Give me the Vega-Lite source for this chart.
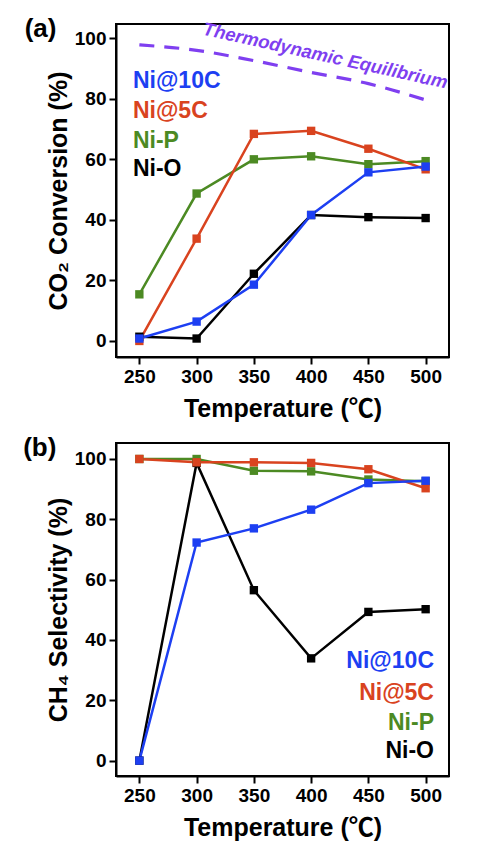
{
  "$schema": "https://vega.github.io/schema/vega-lite/v6.json",
  "background": "white",
  "padding": {"left": 22, "top": 14, "right": 0, "bottom": 0},
  "spacing": 12,
  "config": {
    "font": "Liberation Sans",
    "view": {"stroke": "black", "strokeWidth": 2},
    "axis": {
      "grid": false,
      "domainColor": "black",
      "domainWidth": 2,
      "tickColor": "black",
      "tickWidth": 2,
      "tickSize": 7,
      "labelFont": "Liberation Sans",
      "labelFontSize": 19,
      "labelFontWeight": "bold",
      "labelColor": "black",
      "labelPadding": 3,
      "titleFont": "Liberation Sans, 'Noto Sans CJK SC'",
      "titleFontSize": 25,
      "titleFontWeight": "bold",
      "titleColor": "black"
    },
    "text": {"font": "Liberation Sans", "fontWeight": "bold"}
  },
  "datasets": {
    "conversion": [
      {"sample": "Ni-O", "temp": 250, "value": 1.4},
      {"sample": "Ni-O", "temp": 300, "value": 0.8},
      {"sample": "Ni-O", "temp": 350, "value": 22.2},
      {"sample": "Ni-O", "temp": 400, "value": 41.6},
      {"sample": "Ni-O", "temp": 450, "value": 40.9},
      {"sample": "Ni-O", "temp": 500, "value": 40.6},
      {"sample": "Ni-P", "temp": 250, "value": 15.4},
      {"sample": "Ni-P", "temp": 300, "value": 48.7},
      {"sample": "Ni-P", "temp": 350, "value": 60.0},
      {"sample": "Ni-P", "temp": 400, "value": 61.0},
      {"sample": "Ni-P", "temp": 450, "value": 58.4},
      {"sample": "Ni-P", "temp": 500, "value": 59.4},
      {"sample": "Ni@5C", "temp": 250, "value": 0.0},
      {"sample": "Ni@5C", "temp": 300, "value": 33.8},
      {"sample": "Ni@5C", "temp": 350, "value": 68.4},
      {"sample": "Ni@5C", "temp": 400, "value": 69.4},
      {"sample": "Ni@5C", "temp": 450, "value": 63.5},
      {"sample": "Ni@5C", "temp": 500, "value": 56.7},
      {"sample": "Ni@10C", "temp": 250, "value": 0.8},
      {"sample": "Ni@10C", "temp": 300, "value": 6.4},
      {"sample": "Ni@10C", "temp": 350, "value": 18.6},
      {"sample": "Ni@10C", "temp": 400, "value": 41.6},
      {"sample": "Ni@10C", "temp": 450, "value": 55.7},
      {"sample": "Ni@10C", "temp": 500, "value": 57.6}
    ],
    "selectivity": [
      {"sample": "Ni-O", "temp": 250, "value": 0.0},
      {"sample": "Ni-O", "temp": 300, "value": 98.7},
      {"sample": "Ni-O", "temp": 350, "value": 56.5},
      {"sample": "Ni-O", "temp": 400, "value": 33.9},
      {"sample": "Ni-O", "temp": 450, "value": 49.3},
      {"sample": "Ni-O", "temp": 500, "value": 50.2},
      {"sample": "Ni-P", "temp": 250, "value": 100.0},
      {"sample": "Ni-P", "temp": 300, "value": 100.0},
      {"sample": "Ni-P", "temp": 350, "value": 96.1},
      {"sample": "Ni-P", "temp": 400, "value": 95.9},
      {"sample": "Ni-P", "temp": 450, "value": 93.2},
      {"sample": "Ni-P", "temp": 500, "value": 92.6},
      {"sample": "Ni@5C", "temp": 250, "value": 100.0},
      {"sample": "Ni@5C", "temp": 300, "value": 98.9},
      {"sample": "Ni@5C", "temp": 350, "value": 98.9},
      {"sample": "Ni@5C", "temp": 400, "value": 98.7},
      {"sample": "Ni@5C", "temp": 450, "value": 96.6},
      {"sample": "Ni@5C", "temp": 500, "value": 90.3},
      {"sample": "Ni@10C", "temp": 250, "value": 0.0},
      {"sample": "Ni@10C", "temp": 300, "value": 72.3},
      {"sample": "Ni@10C", "temp": 350, "value": 77.0},
      {"sample": "Ni@10C", "temp": 400, "value": 83.2},
      {"sample": "Ni@10C", "temp": 450, "value": 92.0},
      {"sample": "Ni@10C", "temp": 500, "value": 92.8}
    ],
    "equilibrium": [
      {"temp": 250, "value": 97.8},
      {"temp": 300, "value": 96.0},
      {"temp": 350, "value": 92.6},
      {"temp": 400, "value": 88.7},
      {"temp": 450, "value": 85.0},
      {"temp": 500, "value": 79.6}
    ],
    "keyTop": [
      {"sample": "Ni@10C", "temp": 244.4, "value": 85.9},
      {"sample": "Ni@5C", "temp": 244.4, "value": 76.0},
      {"sample": "Ni-P", "temp": 244.4, "value": 66.1},
      {"sample": "Ni-O", "temp": 244.4, "value": 56.8}
    ],
    "keyBottom": [
      {"sample": "Ni@10C", "temp": 507.3, "value": 33.0},
      {"sample": "Ni@5C", "temp": 507.3, "value": 22.5},
      {"sample": "Ni-P", "temp": 507.3, "value": 12.6},
      {"sample": "Ni-O", "temp": 507.3, "value": 3.2}
    ]
  },
  "resolve": {"scale": {"y": "independent"}},
  "vconcat": [
    {
      "width": 333,
      "height": 333,
      "encoding": {
        "x": {
          "field": "temp", "type": "quantitative",
          "scale": {"domain": [229.6, 520.4], "nice": false, "zero": false},
          "axis": {"values": [250, 300, 350, 400, 450, 500], "title": "Temperature (℃)", "titlePadding": 10}
        },
        "y": {
          "field": "value", "type": "quantitative",
          "scale": {"domain": [-5.3, 104.7], "nice": false, "zero": false},
          "axis": {"values": [0, 20, 40, 60, 80, 100], "title": "CO₂ Conversion (%)", "titlePadding": 3}
        }
      },
      "layer": [
        {
          "data": {"name": "equilibrium"},
          "mark": {"type": "line", "color": "#7f3ff0", "strokeWidth": 3.2, "strokeDash": [15, 10], "interpolate": "monotone"}
        },
        {
          "data": {"values": [{"temp": 412.4, "value": 94.2, "label": "Thermodynamic Equilibrium"}]},
          "mark": {"type": "text", "angle": 12.5, "fontSize": 18.5, "fontStyle": "italic", "color": "#7f3ff0", "align": "center", "baseline": "middle"},
          "encoding": {"text": {"field": "label"}}
        },
        {
          "data": {"name": "conversion"},
          "mark": {"type": "line", "strokeWidth": 2.5},
          "encoding": {
            "color": {"field": "sample", "type": "nominal", "legend": null,
              "scale": {"domain": ["Ni@10C", "Ni@5C", "Ni-P", "Ni-O"], "range": ["#1d3ff2", "#d9431f", "#4c8a23", "#000000"]}}
          }
        },
        {
          "data": {"name": "conversion"},
          "mark": {"type": "square", "size": 70, "filled": true, "opacity": 1},
          "encoding": {"color": {"field": "sample", "type": "nominal", "legend": null}}
        },
        {
          "data": {"name": "keyTop"},
          "mark": {"type": "text", "fontSize": 23, "align": "left", "baseline": "middle"},
          "encoding": {
            "text": {"field": "sample"},
            "color": {"field": "sample", "type": "nominal", "legend": null}
          }
        },
        {
          "data": {"values": [{"temp": 163.7, "value": 103.2, "label": "(a)"}]},
          "mark": {"type": "text", "fontSize": 26, "align": "center", "baseline": "middle", "color": "black"},
          "encoding": {"text": {"field": "label"}}
        }
      ]
    },
    {
      "width": 333,
      "height": 333,
      "encoding": {
        "x": {
          "field": "temp", "type": "quantitative",
          "scale": {"domain": [229.6, 520.4], "nice": false, "zero": false},
          "axis": {"values": [250, 300, 350, 400, 450, 500], "title": "Temperature (℃)", "titlePadding": 10}
        },
        "y": {
          "field": "value", "type": "quantitative",
          "scale": {"domain": [-5.1, 105.3], "nice": false, "zero": false},
          "axis": {"values": [0, 20, 40, 60, 80, 100], "title": "CH₄ Selectivity (%)", "titlePadding": 3}
        }
      },
      "layer": [
        {
          "data": {"name": "selectivity"},
          "mark": {"type": "line", "strokeWidth": 2.5},
          "encoding": {
            "color": {"field": "sample", "type": "nominal", "legend": null,
              "scale": {"domain": ["Ni@10C", "Ni@5C", "Ni-P", "Ni-O"], "range": ["#1d3ff2", "#d9431f", "#4c8a23", "#000000"]}}
          }
        },
        {
          "data": {"name": "selectivity"},
          "mark": {"type": "square", "size": 70, "filled": true, "opacity": 1},
          "encoding": {"color": {"field": "sample", "type": "nominal", "legend": null}}
        },
        {
          "data": {"name": "keyBottom"},
          "mark": {"type": "text", "fontSize": 23, "align": "right", "baseline": "middle"},
          "encoding": {
            "text": {"field": "sample"},
            "color": {"field": "sample", "type": "nominal", "legend": null}
          }
        },
        {
          "data": {"values": [{"temp": 163.0, "value": 103.6, "label": "(b)"}]},
          "mark": {"type": "text", "fontSize": 26, "align": "center", "baseline": "middle", "color": "black"},
          "encoding": {"text": {"field": "label"}}
        }
      ]
    }
  ]
}
